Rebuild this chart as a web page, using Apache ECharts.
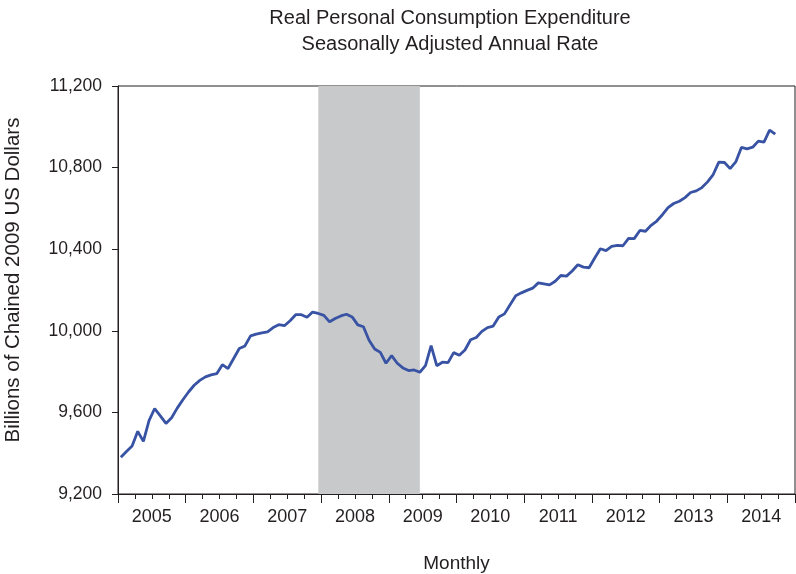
<!DOCTYPE html>
<html>
<head>
<meta charset="utf-8">
<style>
  html, body { margin: 0; padding: 0; background: #ffffff; }
  #chart { width: 796px; height: 574px; }
</style>
<script src="https://cdn.jsdelivr.net/npm/echarts@6/dist/echarts.min.js"></script>
</head>
<body>
<div id="chart"></div>
<script>
// Tick labels (years on the x axis)
const years = ['2005', '2006', '2007', '2008', '2009', '2010', '2011', '2012', '2013', '2014'];
const monthNums = ['01', '02', '03', '04', '05', '06', '07', '08', '09', '10', '11', '12'];

// Real PCE, billions of chained 2009 US dollars, monthly
const pce2005 = [9380, 9408, 9435, 9507, 9458, 9560, 9619, 9583, 9546, 9574, 9621, 9662];
const pce2006 = [9700, 9733, 9757, 9774, 9784, 9790, 9834, 9815, 9864, 9913, 9926, 9975];
const pce2007 = [9984, 9990, 9995, 10016, 10030, 10025, 10049, 10079, 10079, 10066, 10092, 10085];
const pce2008 = [10076, 10044, 10060, 10073, 10081, 10068, 10029, 10020, 9954, 9911, 9894, 9841];
const pce2009 = [9878, 9841, 9818, 9805, 9808, 9797, 9829, 9927, 9829, 9846, 9844, 9893];
const pce2010 = [9880, 9906, 9956, 9967, 9997, 10016, 10023, 10068, 10083, 10128, 10172, 10186];
const pce2011 = [10198, 10209, 10235, 10230, 10225, 10243, 10271, 10268, 10293, 10324, 10312, 10309];
const pce2012 = [10357, 10402, 10393, 10414, 10419, 10417, 10453, 10452, 10492, 10488, 10517, 10538];
const pce2013 = [10569, 10604, 10624, 10635, 10653, 10678, 10686, 10702, 10730, 10766, 10827, 10825];
const pce2014 = [10795, 10828, 10899, 10892, 10900, 10930, 10925, 10984, 10964];

// Recession shading (NBER), start and end months
const recessionStart = '2007-12';
const recessionEnd = '2009-06';

// Y tick values
const yMin = 9200, yMax = 11200, yStep = 400;

const months = [];
years.forEach(y => monthNums.forEach(m => months.push(y + '-' + m)));
const values = [].concat(pce2005, pce2006, pce2007, pce2008, pce2009,
                         pce2010, pce2011, pce2012, pce2013, pce2014);

const FONT = "'Liberation Sans', Arial, Helvetica, sans-serif";
const TXT = '#231f20';

const chart = echarts.init(document.getElementById('chart'), null, { renderer: 'canvas' });
chart.setOption({
  backgroundColor: '#ffffff',
  animation: false,
  title: {
    text: 'Real Personal Consumption Expenditure\nSeasonally Adjusted Annual Rate',
    left: 445,
    top: 0,
    textAlign: 'center',
    textStyle: { fontFamily: FONT, fontSize: 20, fontWeight: 'normal', color: TXT, lineHeight: 26 }
  },
  grid: {
    left: 118, right: 1, top: 86, bottom: 80,
    containLabel: false,
    outerBoundsMode: 'none',
    show: true, borderColor: '#231f20', borderWidth: 1, backgroundColor: 'transparent'
  },
  xAxis: [
    {
      type: 'category',
      data: months,
      position: 'bottom',
      boundaryGap: true,
      axisLine: { show: true, lineStyle: { color: '#231f20', width: 1 } },
      axisTick: { show: true, interval: 2, length: 5, lineStyle: { color: '#231f20' } },
      axisLabel: { show: false },
      splitLine: { show: false },
      name: 'Monthly',
      nameLocation: 'middle',
      nameGap: 60,
      nameTextStyle: { fontFamily: FONT, fontSize: 19, color: TXT }
    },
    {
      type: 'category',
      data: years,
      position: 'bottom',
      boundaryGap: true,
      axisLine: { show: false },
      axisTick: { show: true, length: 9, lineStyle: { color: '#231f20' } },
      axisLabel: { fontFamily: FONT, fontSize: 18, color: TXT, margin: 14 },
      splitLine: { show: false }
    }
  ],
  yAxis: {
    type: 'value',
    min: yMin, max: yMax, interval: yStep,
    axisLine: { show: true, lineStyle: { color: '#231f20', width: 1 } },
    axisTick: { show: true, length: 6, lineStyle: { color: '#231f20' } },
    axisLabel: {
      fontFamily: FONT, fontSize: 17.5, color: TXT, margin: 16,
      formatter: v => v.toLocaleString('en-US')
    },
    splitLine: { show: false },
    name: 'Billions of Chained 2009 US Dollars',
    nameLocation: 'middle',
    nameGap: 94,
    nameTextStyle: { fontFamily: FONT, fontSize: 20.5, color: TXT, padding: [0, 0, 0, 20] }
  },
  series: [{
    type: 'line',
    xAxisIndex: 0,
    data: values,
    symbol: 'none',
    lineStyle: { color: '#3953a4', width: 2.8 },
    z: 3,
    markArea: {
      silent: true,
      itemStyle: { color: '#c8c9cb' },
      data: [[{ xAxis: recessionStart }, { xAxis: recessionEnd }]]
    }
  }]
});
</script>
</body>
</html>
